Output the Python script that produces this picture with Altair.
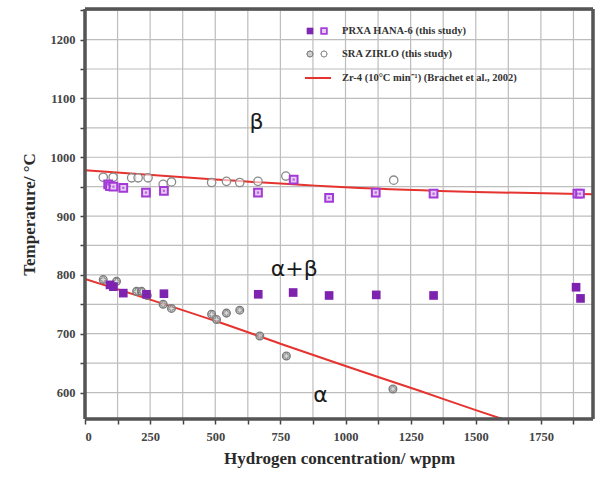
import altair as alt
import pandas as pd

# ---- data ----
hana_up_x = [89, 96, 109, 147, 234, 303, 664, 801, 937, 1116, 1338, 1890, 1900]
hana_up_y = [954, 951, 950, 948, 940, 943, 940, 962, 931, 940, 938, 938, 938]
hana_lo_x = [96, 109, 147, 236, 303, 665, 799, 937, 1118, 1338, 1885, 1902]
hana_lo_y = [783, 780, 769, 767, 768, 767, 770, 765, 766, 765, 779, 760]
zirlo_up_x = [70, 108, 179, 204, 242, 300, 332, 486, 543, 594, 664, 771, 1185]
zirlo_up_y = [966, 966, 965, 965, 965, 954, 958, 957, 959, 957, 959, 968, 961]
zirlo_lo_x = [70, 121, 198, 217, 239, 300, 332, 486, 505, 543, 594, 671, 773, 1182]
zirlo_lo_y = [792, 789, 772, 772, 765, 750, 743, 733, 724, 735, 740, 696, 662, 606]
zr4_up_x = [0, 500, 1000, 1500, 1950]
zr4_up_y = [978, 962, 949, 941, 937]
zr4_lo_x = [0, 250, 518, 750, 1000, 1284, 1500, 1650]
zr4_lo_y = [793, 758, 719, 683, 645, 603, 570, 548]
phase_labels = ["β", "α+β", "α"]
phase_x = [658, 803, 904]
phase_y = [1060, 810, 595]

legend_labels = ["PRXA HANA-6 (this study)", "SRA ZIRLO (this study)",
                 "Zr-4 (10°C min⁻¹) (Brachet et al., 2002)"]

x_ticks = [0, 125, 250, 375, 500, 625, 750, 875, 1000, 1125, 1250, 1375, 1500, 1625, 1750, 1875]
y_ticks = [600, 650, 700, 750, 800, 850, 900, 950, 1000, 1050, 1100, 1150, 1200, 1250]

XD = [0, 1950]
YD = [555, 1252]
W, H = 508, 410

xs = alt.Scale(domain=XD, nice=False)
ys = alt.Scale(domain=YD, nice=False)

serif = "Liberation Serif"

xaxis = alt.Axis(values=x_ticks, labelExpr="datum.value % 250 == 0 ? datum.label : ''",
                 format="d", title="Hydrogen concentration/ wppm",
                 grid=False,
                 tickSize=5, tickWidth=1.5, tickColor="#444", domain=False,
                 labelFont=serif, labelFontSize=12.5, labelFontWeight="bold", labelColor="#444",
                 labelPadding=6,
                 titleFont=serif, titleFontSize=17, titleFontWeight="bold", titleColor="#2a2a2a",
                 titlePadding=8)
yaxis = alt.Axis(values=y_ticks, labelExpr="datum.value % 100 == 0 && datum.value <= 1200 ? datum.label : ''",
                 format="d", title="Temperature/ °C",
                 grid=False,
                 tickSize=5, tickWidth=1.5, tickColor="#444", domain=False,
                 labelFont=serif, labelFontSize=12.5, labelFontWeight="bold", labelColor="#444",
                 labelPadding=5,
                 titleFont=serif, titleFontSize=17, titleFontWeight="bold", titleColor="#2a2a2a",
                 titlePadding=12)

df_hu = pd.DataFrame({"x": hana_up_x, "y": hana_up_y})
df_hl = pd.DataFrame({"x": hana_lo_x, "y": hana_lo_y})
df_zu = pd.DataFrame({"x": zirlo_up_x, "y": zirlo_up_y})
df_zl = pd.DataFrame({"x": zirlo_lo_x, "y": zirlo_lo_y})
df_lu = pd.DataFrame({"x": zr4_up_x, "y": zr4_up_y})
df_ll = pd.DataFrame({"x": zr4_lo_x, "y": zr4_lo_y})
df_ph = pd.DataFrame({"t": phase_labels, "x": phase_x, "y": phase_y})
df_gx = pd.DataFrame({"x": x_ticks[1:]})
df_gy = pd.DataFrame({"y": y_ticks})


def enc(ch, **kw):
    return ch.encode(x=alt.X("x:Q", scale=xs, axis=xaxis),
                     y=alt.Y("y:Q", scale=ys, axis=yaxis), **kw)


grid_c = "#bdbdbd"
grid_x = alt.Chart(df_gx).mark_rule(color=grid_c, strokeWidth=1.2, opacity=1).encode(
    x=alt.X("x:Q", scale=xs, axis=xaxis), y=alt.value(0), y2=alt.value(H))
grid_y = alt.Chart(df_gy).mark_rule(color=grid_c, strokeWidth=1.2, opacity=1).encode(
    y=alt.Y("y:Q", scale=ys, axis=yaxis), x=alt.value(0), x2=alt.value(W))

red = "#e5332f"
line_up = enc(alt.Chart(df_lu).mark_line(color=red, strokeWidth=2, clip=True, interpolate="monotone"))
line_lo = enc(alt.Chart(df_ll).mark_line(color=red, strokeWidth=2, clip=True, interpolate="monotone"))

zu = enc(alt.Chart(df_zu).mark_point(shape="circle", size=70, filled=False, color="#8a8a8a",
                                     strokeWidth=1.3, fill="white", fillOpacity=0.6))
zl = enc(alt.Chart(df_zl).mark_point(shape="circle", size=60, filled=False, color="#7a7a7a",
                                     strokeWidth=1.3, fill="#d0d0d0", fillOpacity=0.8))
zl_cross = enc(alt.Chart(df_zl).mark_point(shape="cross", size=30, filled=False, color="#666",
                                           strokeWidth=0.8))

purple_dark = "#7e22b0"
purple = "#a33ad6"
hu = enc(alt.Chart(df_hu).mark_point(shape="square", size=60, filled=False, color=purple,
                                     strokeWidth=2, fill="#e6ccf5", fillOpacity=1))
hu_dot = enc(alt.Chart(df_hu).mark_point(shape="square", size=5, filled=True, color=purple))
hl = enc(alt.Chart(df_hl).mark_point(shape="square", size=75, filled=True, color=purple_dark,
                                     opacity=1))

phases = enc(alt.Chart(df_ph).mark_text(font="DejaVu Sans", fontSize=22, color="#1a1a1a",
                                        align="center", baseline="middle"), text="t:N")

# frame as four rules
frame_l = alt.Chart(df_lu).mark_rule(color="#555", strokeWidth=2.5).encode(
    x=alt.value(0), y=alt.value(0), y2=alt.value(H))
frame_r = alt.Chart(df_lu).mark_rule(color="#555", strokeWidth=2.5).encode(
    x=alt.value(W), y=alt.value(0), y2=alt.value(H))
frame_t = alt.Chart(df_lu).mark_rule(color="#555", strokeWidth=2.5).encode(
    y=alt.value(0), x=alt.value(0), x2=alt.value(W))
frame_b = alt.Chart(df_lu).mark_rule(color="#555", strokeWidth=2.5).encode(
    y=alt.value(H), x=alt.value(0), x2=alt.value(W))

# manual legend (pixel positions inside plot area)
lx_text = 257
rows_y = [22, 45, 69]
leg_df = pd.DataFrame({"t": legend_labels})
leg_layers = []
for i, lab in enumerate(legend_labels):
    d = pd.DataFrame({"t": [lab]})
    leg_layers.append(alt.Chart(d).mark_text(font=serif, fontSize=10.5, fontWeight="bold",
                                             color="#333", align="left", baseline="middle").encode(
        x=alt.value(lx_text), y=alt.value(rows_y[i]), text="t:N"))
leg_layers.append(alt.Chart(leg_df).mark_point(shape="square", size=40, filled=True, color=purple_dark).encode(
    x=alt.value(225), y=alt.value(rows_y[0])))
leg_layers.append(alt.Chart(leg_df).mark_point(shape="square", size=30, filled=False, color=purple, strokeWidth=1.5,
                                               fill="#e6ccf5").encode(
    x=alt.value(239), y=alt.value(rows_y[0])))
leg_layers.append(alt.Chart(leg_df).mark_point(shape="circle", size=35, filled=False, color="#7a7a7a",
                                               fill="#d0d0d0", strokeWidth=1).encode(
    x=alt.value(225), y=alt.value(rows_y[1])))
leg_layers.append(alt.Chart(leg_df).mark_point(shape="circle", size=35, filled=False, color="#8a8a8a",
                                               fill="white", strokeWidth=1).encode(
    x=alt.value(239), y=alt.value(rows_y[1])))
leg_layers.append(alt.Chart(leg_df).mark_rule(color=red, strokeWidth=2).encode(
    x=alt.value(220), x2=alt.value(246), y=alt.value(rows_y[2])))

chart = alt.layer(grid_x, grid_y, line_up, line_lo, zu, zl, zl_cross, hu, hu_dot, hl, phases,
                  *leg_layers, frame_l, frame_r, frame_t, frame_b).properties(
    width=W, height=H,
    autosize=alt.AutoSizeParams(type="none"),
    padding={"left": 85, "top": 9, "right": 9, "bottom": 62},
    background="white",
).configure_view(stroke=None)

chart.save("out.html", embed_options={"renderer": "svg", "actions": False})
